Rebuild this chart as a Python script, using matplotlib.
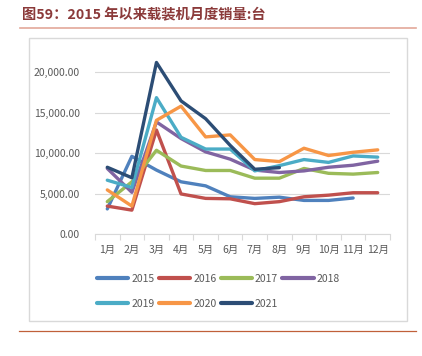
import matplotlib
matplotlib.use("Agg")
import matplotlib.pyplot as plt
from matplotlib.patches import Rectangle
from matplotlib.lines import Line2D

plt.rcParams['font.family'] = ['Noto Sans CJK SC', 'DejaVu Sans']

months = ['1月', '2月', '3月', '4月', '5月', '6月', '7月', '8月', '9月', '10月', '11月', '12月']

s2015 = [3100, 9600, 7900, 6450, 5950, 4600, 4400, 4550, 4150, 4150, 4450]
s2016 = [3450, 2950, 12850, 4950, 4400, 4350, 3750, 4000, 4600, 4800, 5100, 5100]
s2017 = [4000, 6450, 10350, 8400, 7850, 7850, 6900, 6900, 8100, 7500, 7400, 7600]
s2018 = [8100, 5150, 13850, 11800, 10150, 9250, 7900, 7600, 7800, 8250, 8500, 9000]
s2019 = [6650, 5750, 16850, 11950, 10500, 10500, 7800, 8450, 9200, 8850, 9650, 9500]
s2020 = [5450, 3450, 14050, 15800, 12000, 12250, 9200, 8950, 10600, 9700, 10100, 10400]
s2021 = [8250, 6950, 21200, 16450, 14250, 10950, 8000, 8200]

series = [
    ('2015', s2015, '#4F81BD'),
    ('2016', s2016, '#C0504D'),
    ('2017', s2017, '#9BBB59'),
    ('2018', s2018, '#8064A2'),
    ('2019', s2019, '#4BACC6'),
    ('2020', s2020, '#F79646'),
    ('2021', s2021, '#2C4D75'),
]

fig = plt.figure(figsize=(4.22, 3.56), dpi=100)

# title and decorative lines
fig.text(22 / 422, 1 - 15 / 356, '图59：2015 年以来载装机月度销量:台', fontsize=10.3,
         fontweight='bold', color='#8B3A3A', va='center', ha='left')
fig.add_artist(Line2D([20 / 422, 416 / 422], [1 - 28 / 356, 1 - 28 / 356],
                      color='#E3A899', lw=1.2))
fig.add_artist(Line2D([19 / 422, 416 / 422], [1 - 331 / 356, 1 - 331 / 356],
                      color='#C0603A', lw=0.9))
fig.add_artist(Rectangle((29 / 422, 1 - 321 / 356), 378 / 422, 283 / 356,
                         fill=False, edgecolor='#D9D9D9', lw=1.0))

ax = fig.add_axes([95 / 422, 1 - 234 / 356, 295 / 422, 178 / 356])
x = list(range(len(months)))
for name, vals, col in series:
    ax.plot(x[:len(vals)], vals, color=col, lw=2.4, label=name,
            solid_joinstyle='round', solid_capstyle='round', clip_on=False)

ax.set_xlim(-0.5, 11.5)
ax.set_ylim(0, 22000)
ax.set_yticks([0, 5000, 10000, 15000, 20000])
ax.set_yticklabels(['0.00', '5,000.00', '10,000.00', '15,000.00', '20,000.00'])
ax.set_xticks(x)
ax.set_xticklabels(months)
ax.set_xticks([i - 0.5 for i in range(13)], minor=True)
ax.tick_params(axis='x', which='major', length=0, pad=8, labelsize=7.5, labelcolor='#595959')
ax.tick_params(axis='x', which='minor', length=4, color='#D9D9D9', width=0.8)
ax.tick_params(axis='y', length=0, pad=11, labelsize=7.5, labelcolor='#595959')
ax.grid(axis='y', color='#D9D9D9', lw=0.8)
ax.set_axisbelow(True)
for side in ['top', 'right', 'left']:
    ax.spines[side].set_visible(False)
ax.spines['bottom'].set_color('#D9D9D9')

# legend filled row by row: reorder for matplotlib's column-wise fill
handles, labels = ax.get_legend_handles_labels()
order = [0, 4, 1, 5, 2, 6, 3]
leg = fig.legend([handles[i] for i in order], [labels[i] for i in order],
                 loc='upper left', bbox_to_anchor=(97 / 422, 1 - 274 / 356),
                 ncol=4, frameon=False, fontsize=7.5, handlelength=3.0,
                 handletextpad=0.3, columnspacing=0.4, labelspacing=1.4,
                 borderpad=0, borderaxespad=0)
for t in leg.get_texts():
    t.set_color('#595959')
for h in leg.get_lines():
    h.set_linewidth(3)
    h.set_solid_capstyle('round')

fig.savefig('out.png', dpi=100)
